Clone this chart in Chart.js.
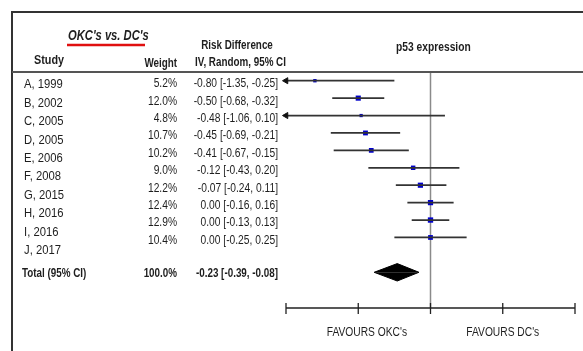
<!DOCTYPE html>
<html>
<head>
<meta charset="utf-8">
<script src="https://cdn.jsdelivr.net/npm/chart.js@4.4.0/dist/chart.umd.min.js"></script>
<style>
  html, body { margin: 0; padding: 0; background: #fff; }
  canvas { display: block; }
</style>
</head>
<body>
<canvas id="forest" width="583" height="351"></canvas>
<script>
// ========== Data ==========
const studies = ['A, 1999', 'B, 2002', 'C, 2005', 'D, 2005', 'E, 2006', 'F, 2008', 'G, 2015', 'H, 2016', 'I, 2016', 'J, 2017'];
const weights = [5.2, 12.0, 4.8, 10.7, 10.2, 9.0, 12.2, 12.4, 12.9, 10.4];
const riskDiff = [-0.80, -0.50, -0.48, -0.45, -0.41, -0.12, -0.07, 0.00, 0.00, 0.00];
const ciLower = [-1.35, -0.68, -1.06, -0.69, -0.67, -0.43, -0.24, -0.16, -0.13, -0.25];
const ciUpper = [-0.25, -0.32, 0.10, -0.21, -0.15, 0.20, 0.11, 0.16, 0.13, 0.25];
const totalWeight = 100.0;
const totalDiff = -0.23;
const totalLower = -0.39;
const totalUpper = -0.08;
const xTicks = [-1, -0.5, 0, 0.5, 1];
const favourLabels = ["FAVOURS OKC's", "FAVOURS DC's"];

const X_MIN = -1, X_MAX = 1;
const TOTAL_ROW = 11;
const FONT = '"Liberation Sans", Arial, sans-serif';
const INK = '#1e1e1e';

const fmt = v => v.toFixed(2);
const ciText = (d, lo, hi) => `${fmt(d)} [${fmt(lo)}, ${fmt(hi)}]`;

// no narrow font installed -> squeeze Liberation Sans horizontally
function narrowText(ctx, text, x, y, align, squeeze) {
  ctx.save();
  ctx.translate(x, y);
  ctx.scale(squeeze || 0.82, 1);
  ctx.textAlign = align;
  ctx.fillText(text, 0, 0);
  ctx.restore();
}

// ========== Datasets ==========
const ciSets = studies.map((s, i) => {
  const clipped = ciLower[i] < X_MIN;
  return {
    label: s,
    data: [{ x: Math.max(ciLower[i], X_MIN), y: i }, { x: Math.min(ciUpper[i], X_MAX), y: i }],
    showLine: true,
    clip: false,
    borderColor: '#333',
    borderWidth: 1.8,
    pointStyle: 'triangle',
    pointRotation: 270,
    pointRadius: [clipped ? 3.5 : 0, 0],
    pointBackgroundColor: '#111',
    pointBorderColor: '#111',
    pointBorderWidth: 1
  };
});

const estimateSet = {
  label: 'Risk difference',
  data: riskDiff.map((d, i) => ({ x: d, y: i })),
  pointStyle: 'rect',
  pointRadius: weights.map(w => Math.sqrt(w) * 1.05),
  backgroundColor: '#0000cc',
  borderColor: '#0000cc',
  borderWidth: 0
};

// pooled diamond as two filled triangles around the total row
const halfH = 0.5;
const diamondTop = {
  label: 'Total top',
  data: [{ x: totalLower, y: TOTAL_ROW }, { x: totalDiff, y: TOTAL_ROW - halfH }, { x: totalUpper, y: TOTAL_ROW }],
  showLine: true, fill: { value: TOTAL_ROW }, tension: 0,
  borderColor: '#000', borderWidth: 1, backgroundColor: '#000', pointRadius: 0
};
const diamondBottom = {
  label: 'Total bottom',
  data: [{ x: totalLower, y: TOTAL_ROW }, { x: totalDiff, y: TOTAL_ROW + halfH }, { x: totalUpper, y: TOTAL_ROW }],
  showLine: true, fill: { value: TOTAL_ROW }, tension: 0,
  borderColor: '#000', borderWidth: 1, backgroundColor: '#000', pointRadius: 0
};

// ========== Frame, axis and table text ==========
const forestDecor = {
  id: 'forestDecor',
  beforeDatasetsDraw(chart) {
    const { ctx, chartArea: a, scales: { x } } = chart;
    ctx.save();
    // line of no effect
    ctx.strokeStyle = '#8a8a8a';
    ctx.lineWidth = 1.5;
    ctx.beginPath();
    ctx.moveTo(x.getPixelForValue(0), a.top);
    ctx.lineTo(x.getPixelForValue(0), a.bottom);
    ctx.stroke();
    ctx.restore();
  },
  afterDraw(chart) {
    const { ctx, chartArea: a, scales: { x, y } } = chart;
    ctx.save();

    // outer frame + header rule
    ctx.strokeStyle = '#333';
    ctx.lineWidth = 2;
    ctx.beginPath();
    ctx.moveTo(12, chart.height);
    ctx.lineTo(12, 12);
    ctx.lineTo(chart.width, 12);
    ctx.stroke();
    ctx.strokeStyle = '#555';
    ctx.beginPath();
    ctx.moveTo(12, a.top);
    ctx.lineTo(chart.width, a.top);
    ctx.stroke();

    // x axis with ticks
    ctx.strokeStyle = '#222';
    ctx.lineWidth = 1.3;
    ctx.beginPath();
    ctx.moveTo(x.getPixelForValue(X_MIN), a.bottom);
    ctx.lineTo(x.getPixelForValue(X_MAX), a.bottom);
    xTicks.forEach(t => {
      const px = x.getPixelForValue(t);
      ctx.moveTo(px, a.bottom - 5);
      ctx.lineTo(px, a.bottom + 6);
    });
    ctx.stroke();

    ctx.fillStyle = INK;
    ctx.textBaseline = 'middle';

    // favour labels
    ctx.font = '12.5px ' + FONT;
    narrowText(ctx, favourLabels[0], x.getPixelForValue(-0.44), a.bottom + 25, 'center');
    narrowText(ctx, favourLabels[1], x.getPixelForValue(0.5), a.bottom + 25, 'center');

    // headers
    ctx.font = 'bold 12.5px ' + FONT;
    narrowText(ctx, 'p53 expression', x.getPixelForValue(0.02), 48, 'center');
    ctx.font = 'bold 12px ' + FONT;
    narrowText(ctx, 'Risk Difference', 237, 46, 'center');
    narrowText(ctx, 'IV, Random, 95% CI', 195, 63, 'left');
    narrowText(ctx, 'Study', 34, 61, 'left', 0.9);
    narrowText(ctx, 'Weight', 177, 64, 'right');

    // comparison title with red underline
    ctx.font = 'italic bold 14px ' + FONT;
    narrowText(ctx, "OKC's vs. DC's", 68, 36, 'left', 0.8);
    ctx.strokeStyle = '#e01010';
    ctx.lineWidth = 2.4;
    ctx.beginPath();
    ctx.moveTo(67, 45);
    ctx.lineTo(145, 45);
    ctx.stroke();

    // study rows
    studies.forEach((s, i) => {
      const rowY = y.getPixelForValue(i);
      ctx.font = '12.5px ' + FONT;
      narrowText(ctx, s, 24, y.getPixelForValue(i + 0.23 + 0.06 * i), 'left', 0.9);
      narrowText(ctx, weights[i].toFixed(1) + '%', 177, rowY + 3, 'right');
      narrowText(ctx, ciText(riskDiff[i], ciLower[i], ciUpper[i]), 278, rowY + 3, 'right');
    });

    // total row
    const totY = y.getPixelForValue(TOTAL_ROW) + 1;
    ctx.font = 'bold 12px ' + FONT;
    narrowText(ctx, 'Total (95% CI)', 22, totY, 'left');
    narrowText(ctx, totalWeight.toFixed(1) + '%', 177, totY, 'right');
    narrowText(ctx, ciText(totalDiff, totalLower, totalUpper), 278, totY, 'right');

    ctx.restore();
  }
};

// ========== Chart ==========
new Chart(document.getElementById('forest').getContext('2d'), {
  type: 'scatter',
  data: { datasets: [...ciSets, estimateSet, diamondTop, diamondBottom] },
  options: {
    responsive: false,
    animation: false,
    layout: { padding: { left: 286, right: 8, top: 72, bottom: 43 } },
    scales: {
      x: { type: 'linear', min: X_MIN, max: X_MAX, display: false },
      y: { type: 'linear', min: -0.5, max: 13.05, reverse: true, display: false }
    },
    plugins: {
      legend: { display: false },
      tooltip: { enabled: false }
    }
  },
  plugins: [forestDecor]
});
</script>
</body>
</html>
